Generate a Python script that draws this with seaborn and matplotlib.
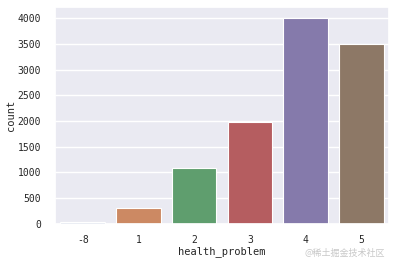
import matplotlib
matplotlib.use("Agg")
import matplotlib.pyplot as plt
import seaborn as sns
import pandas as pd

categories = ["-8", "1", "2", "3", "4", "5"]
counts = [30, 300, 1080, 1990, 4010, 3505]
xlabel = "health_problem"
ylabel = "count"
watermark = "@稀土掘金技术社区"

sns.set_theme(style="darkgrid")
plt.rcParams['font.family'] = ['DejaVu Sans Mono', 'Noto Sans CJK SC']

df = pd.DataFrame({"health_problem": categories, "count": counts})

fig, ax = plt.subplots(figsize=(3.95, 2.64), dpi=100)
fig.subplots_adjust(left=0.139, right=0.985, top=0.972, bottom=0.152)
sns.barplot(data=df, x="health_problem", y="count", hue="health_problem",
            palette="deep", legend=False, ax=ax, edgecolor="white", linewidth=0.8)
ax.set_xlabel(xlabel, fontsize=7.5, labelpad=1)
ax.set_ylabel(ylabel, fontsize=7.5, labelpad=1)
ax.tick_params(axis="y", labelsize=7, pad=4)
ax.tick_params(axis="x", labelsize=7, pad=2)
fig.text(0.975, 0.022, watermark, ha="right", va="bottom", fontsize=6.5,
         color="#c8c8c8", family=["Noto Sans CJK SC", "DejaVu Sans"])
fig.savefig("out.png", dpi=100)
